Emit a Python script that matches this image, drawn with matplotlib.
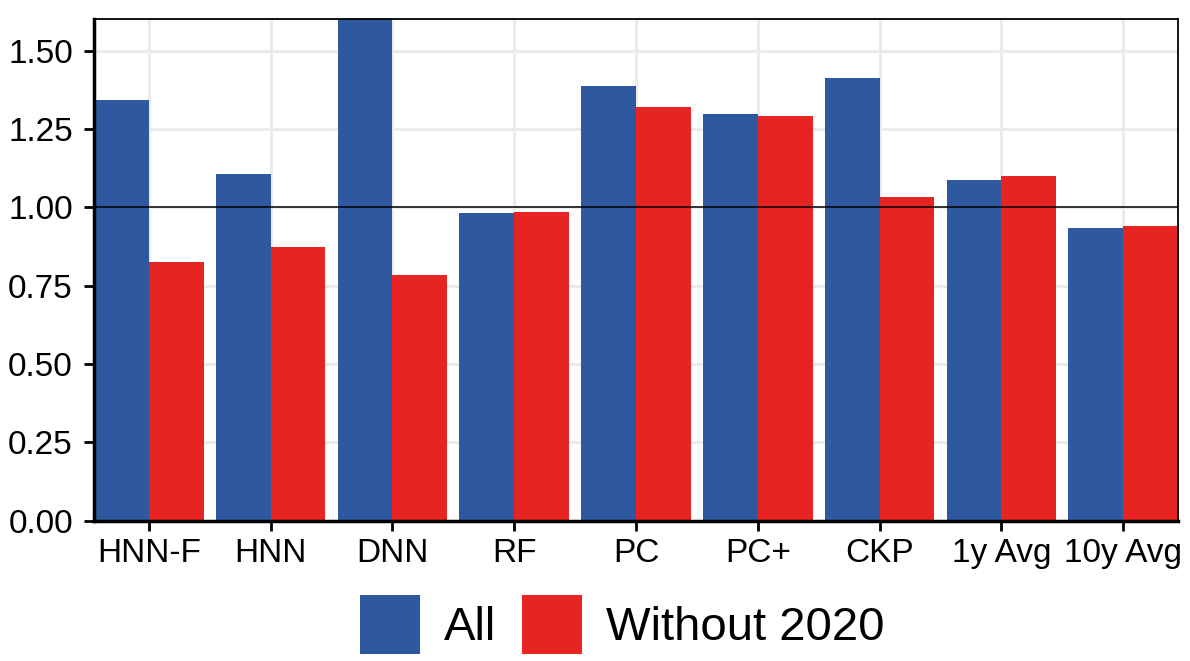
import matplotlib.pyplot as plt
import numpy as np

plt.rcParams['font.family'] = ['Liberation Sans', 'DejaVu Sans']

modelos = ['HNN-F', 'HNN', 'DNN', 'RF', 'PC', 'PC+', 'CKP', '1y Avg', '10y Avg']
todos = [1.342, 1.105, 1.75, 0.983, 1.386, 1.298, 1.412, 1.088, 0.933]
sin_2020 = [0.824, 0.873, 0.784, 0.986, 1.319, 1.291, 1.034, 1.101, 0.939]

azul = '#2E58A0'
rojo = '#E72422'

fig = plt.figure(figsize=(11.9, 6.61), dpi=100)
ax = fig.add_axes([0.079, 0.212, 0.911, 0.759])

x = np.arange(1, len(modelos) + 1)
ancho = 0.45
ax.bar(x - ancho / 2, todos, width=ancho, color=azul, label='All', zorder=2)
ax.bar(x + ancho / 2, sin_2020, width=ancho, color=rojo, label='Without 2020', zorder=2)

# linea de referencia en 1
ax.axhline(1.0, color='black', linewidth=1.1, zorder=3)

ax.set_xlim(0.55, len(modelos) + 0.45)
ax.set_ylim(0, 1.6)
ax.set_xticks(x)
ax.set_xticklabels(modelos)
ax.set_yticks([0, 0.25, 0.5, 0.75, 1.0, 1.25, 1.5])
ax.set_yticklabels(['0.00', '0.25', '0.50', '0.75', '1.00', '1.25', '1.50'])

ax.grid(True, color='#EBEBEB', linewidth=2.2, zorder=0)
ax.set_axisbelow(True)

ax.tick_params(axis='x', labelsize=24, length=7.2, width=2, color='black', pad=5)
ax.tick_params(axis='y', labelsize=24, length=7.2, width=2, color='black', pad=8)
for lado in ['left', 'bottom']:
    ax.spines[lado].set_linewidth(2.5)
for lado in ['top', 'right']:
    ax.spines[lado].set_linewidth(1.3)

fig.legend(loc='lower center', bbox_to_anchor=(0.523, -0.032), ncol=2, fontsize=34,
           frameon=False, handlelength=1.27, handleheight=1.55,
           handletextpad=0.51, columnspacing=0.55, borderaxespad=0.2)

fig.savefig('out.png', dpi=100)
